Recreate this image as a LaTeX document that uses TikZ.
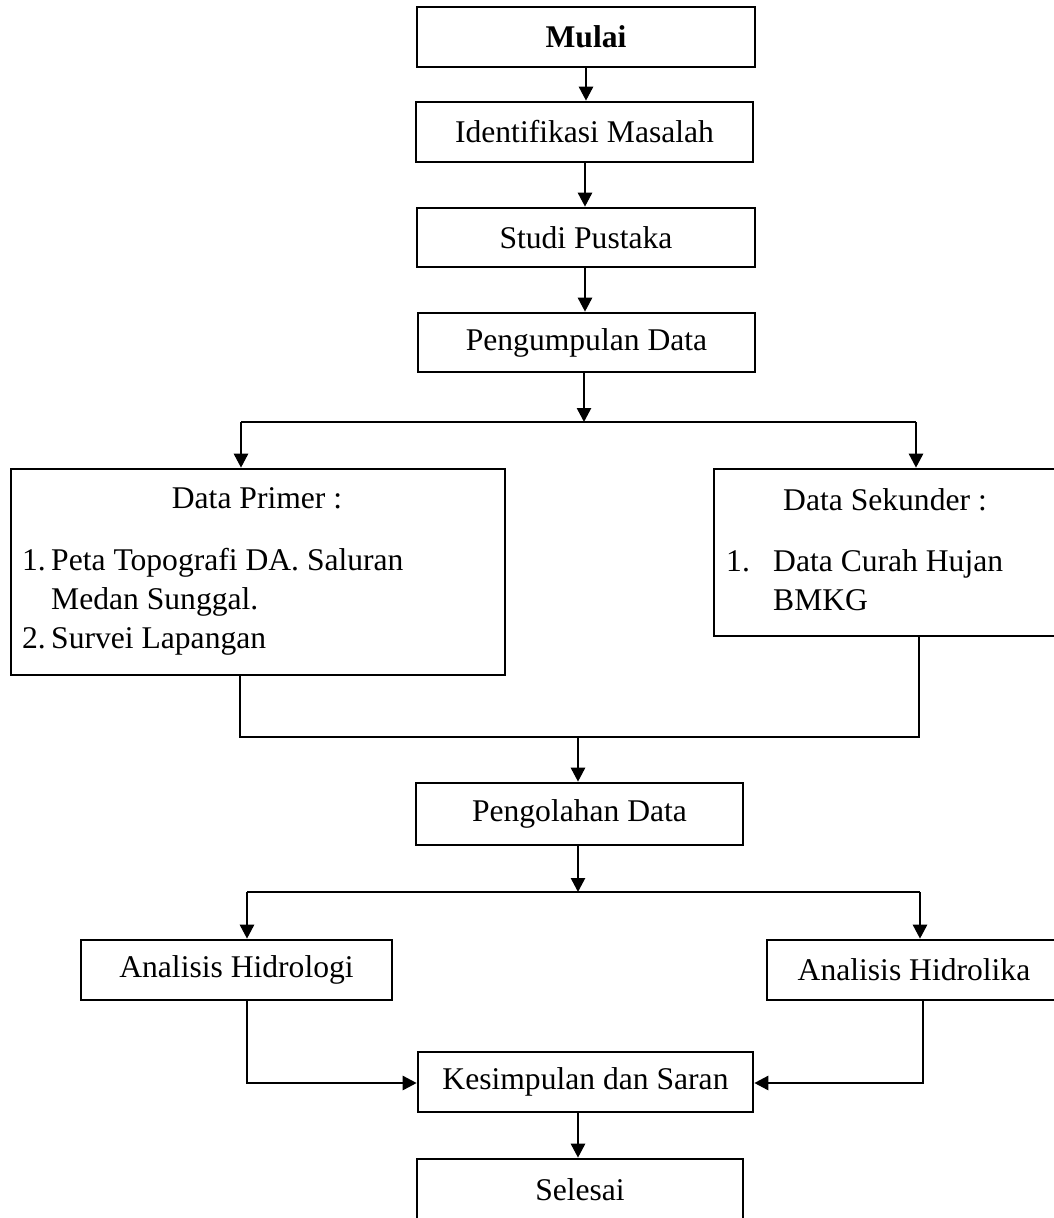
\documentclass[tikz,border=0pt]{standalone}
\usepackage{fontspec}
\setmainfont{Liberation Serif}
\usetikzlibrary{arrows.meta,calc}
\begin{document}
\begin{tikzpicture}[x=1pt,y=-1pt,
  every node/.style={font=\fontsize{31.6}{38.5}\selectfont},
  box/.style={draw, line width=2.6pt, inner sep=0pt, rectangle},
  txt/.style={inner sep=0pt, anchor=base west},
  ctxt/.style={inner sep=0pt, anchor=base},
  arr/.style={line width=2.6pt, -{Triangle[width=14pt,length=14pt]}},
  ln/.style={line width=2.6pt}]
\useasboundingbox (0,0) rectangle (1054,1218);
\clip (0,0) rectangle (1054,1218);

% top chain
\node[box, minimum width=338pt, minimum height=60pt] (mulai) at (586,37) {\textbf{Mulai}};
\node[box, minimum width=337pt, minimum height=60pt] (ident) at (584.5,132) {Identifikasi Masalah};
\node[box, minimum width=338pt, minimum height=59pt] (studi) at (586,237.5) {Studi Pustaka};
\node[box, minimum width=337pt, minimum height=59pt] (kumpul) at (586.5,342.5) {Pengumpulan Data};

\draw[arr] (mulai.south -| 586,0) -- (ident.north -| 586,0);
\draw[arr] (ident.south -| 585,0) -- (studi.north -| 585,0);
\draw[arr] (studi.south -| 585,0) -- (kumpul.north -| 585,0);

% split 1
\coordinate (s1) at (584,422);
\coordinate (s1l) at (241,422);
\coordinate (s1r) at (916,422);
\draw[arr] (kumpul.south -| s1) -- (s1);
\draw[ln] (s1l) -- (s1r);

% data boxes
\node[box, minimum width=494pt, minimum height=206pt] (prim) at (258,572) {};
\node[box, minimum width=343pt, minimum height=167pt] (sek) at (885.5,552.5) {};
\draw[arr] (s1l) -- (s1l |- prim.north);
\draw[arr] (s1r) -- (s1r |- sek.north);

\node[ctxt] (primh) at (257,508) {Data Primer :};
\node[txt] (p1n) at (22,570) {1.};
\node[txt] (p1a) at (51,570) {Peta Topografi DA. Saluran};
\node[txt] (p1b) at (51,609) {Medan Sunggal.};
\node[txt] (p2n) at (22,648) {2.};
\node[txt] (p2a) at (51,648) {Survei Lapangan};

\node[ctxt] (sekh) at (885,510) {Data Sekunder :};
\node[txt] (s1n) at (726,571) {1.};
\node[txt] (s1a) at (773,571) {Data Curah Hujan};
\node[txt] (s1b) at (773,610) {BMKG};

% merge
\coordinate (m1l) at (240,737);
\coordinate (m1r) at (919,737);
\coordinate (m1) at (578,737);
\draw[ln] (prim.south -| m1l) -- (m1l) -- (m1r) -- (sek.south -| m1r);

\node[box, minimum width=327pt, minimum height=62pt] (olah) at (579.5,814) {Pengolahan Data};
\draw[arr] (m1) -- (m1 |- olah.north);

% split 2
\coordinate (s2) at (578,892);
\coordinate (s2l) at (247,892);
\coordinate (s2r) at (920,892);
\draw[arr] (olah.south -| s2) -- (s2);
\draw[ln] (s2l) -- (s2r);

\node[box, minimum width=311pt, minimum height=60pt] (hlogi) at (236.5,970) {Analisis Hidrologi};
\node[box, minimum width=294pt, minimum height=60pt] (hlika) at (914,970) {Analisis Hidrolika};
\draw[arr] (s2l) -- (s2l |- hlogi.north);
\draw[arr] (s2r) -- (s2r |- hlika.north);

\node[box, minimum width=335pt, minimum height=60pt] (simpul) at (585.5,1082) {Kesimpulan dan Saran};
\coordinate (hl) at (247,1083);
\coordinate (hr) at (923,1083);
\draw[arr] (hlogi.south -| hl) -- (hl) -- (hl -| simpul.west);
\draw[arr] (hlika.south -| hr) -- (hr) -- (hr -| simpul.east);

\node[box, minimum width=326pt, minimum height=62pt] (selesai) at (580,1190) {Selesai};
\draw[arr] (simpul.south -| 578,0) -- (selesai.north -| 578,0);
\end{tikzpicture}
\end{document}
